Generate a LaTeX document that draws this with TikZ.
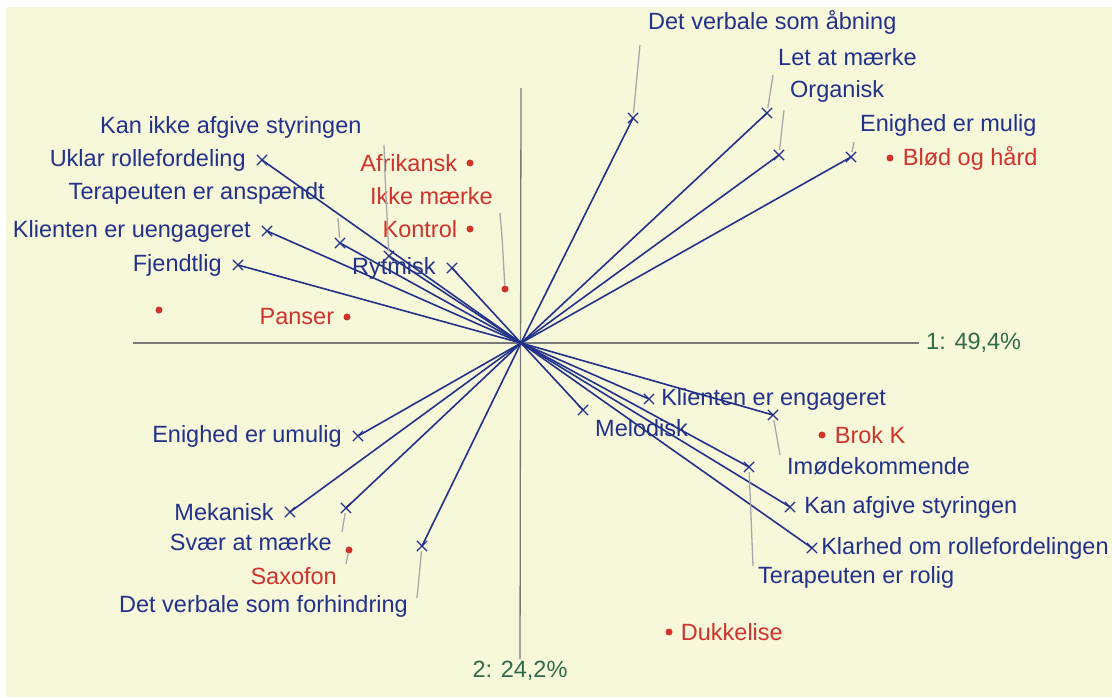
\documentclass[tikz,border=0pt]{standalone}
\usepackage{fontspec}
\setmainfont{Liberation Sans}
\usetikzlibrary{positioning,shapes.misc}
\definecolor{bgyellow}{HTML}{F7F7DA}
\definecolor{vecblue}{HTML}{22318A}
\definecolor{ptred}{HTML}{D0332B}
\definecolor{axgreen}{HTML}{2F6B47}
\definecolor{axgray}{HTML}{7A7A7A}
\definecolor{leadgray}{HTML}{A8A8A8}

\begin{document}
\begin{tikzpicture}[
        x=1pt, y=-1pt,
        node distance = 9pt,
        font=\fontsize{23.5}{27}\selectfont,
        vec/.style={vecblue, line width=1.6pt},
        xmark/.style={cross out, draw=vecblue, line width=1.2pt, minimum size=9pt, inner sep=0pt},
        dot/.style={circle, fill=ptred, minimum size=7pt, inner sep=0pt},
        blbl/.style={text=vecblue, inner sep=0pt},
        rlbl/.style={text=ptred, inner sep=0pt},
        leader/.style={leadgray, line width=1.3pt},
        axis/.style={axgray, line width=1.3pt}]
        % BACKGROUND
        \useasboundingbox (0,0) rectangle (1112,697);
        \fill[white] (0,0) rectangle (1112,697);
        \fill[bgyellow] (6,7) rectangle (1112,697);

        % AXES
        \coordinate (O) at (521,343);
        \coordinate (xl) at (133,343);
        \coordinate (yt) at (521,88);
        \node[text=axgreen, anchor=west, inner sep=0pt] (ax1) at (926,343) {1: 49,4\%};
        \node[text=axgreen, inner sep=0pt] (ax2) at (520,671) {2: 24,2\%};
        \draw[axis, shorten >=7pt] (xl) -- (ax1);
        \draw[axis, shorten >=2pt] (yt) -- (ax2);

        % MARKERS
        \node[xmark] (abn) at (633,118) {};
        \node[xmark] (let) at (767,113) {};
        \node[xmark] (org) at (779,155) {};
        \node[xmark] (mul) at (851,157) {};
        \node[xmark] (kik) at (389,256) {};
        \node[xmark] (ukl) at (262,160) {};
        \node[xmark] (ansp) at (340,243) {};
        \node[xmark] (ueng) at (267,231) {};
        \node[xmark] (fje) at (238,265) {};
        \node[xmark] (ryt) at (452,268) {};
        \node[xmark] (uml) at (358,436) {};
        \node[xmark] (mek) at (290,512) {};
        \node[xmark] (svr) at (346,508) {};
        \node[xmark] (frh) at (422,546) {};
        \node[xmark] (eng) at (649,399) {};
        \node[xmark] (mel) at (583,410) {};
        \node[xmark] (imd) at (773,415) {};
        \node[xmark] (kan) at (790,507) {};
        \node[xmark] (kla) at (812,548) {};
        \node[xmark] (rol) at (749,467) {};

        % VECTORS
        \draw[vec] (O) -- (abn.center);
        \draw[vec] (O) -- (let.center);
        \draw[vec] (O) -- (org.center);
        \draw[vec] (O) -- (mul.center);
        \draw[vec] (O) -- (kik.center);
        \draw[vec] (O) -- (ukl.center);
        \draw[vec] (O) -- (ansp.center);
        \draw[vec] (O) -- (ueng.center);
        \draw[vec] (O) -- (fje.center);
        \draw[vec] (O) -- (ryt.center);
        \draw[vec] (O) -- (uml.center);
        \draw[vec] (O) -- (mek.center);
        \draw[vec] (O) -- (svr.center);
        \draw[vec] (O) -- (frh.center);
        \draw[vec] (O) -- (eng.center);
        \draw[vec] (O) -- (mel.center);
        \draw[vec] (O) -- (imd.center);
        \draw[vec] (O) -- (kan.center);
        \draw[vec] (O) -- (kla.center);
        \draw[vec] (O) -- (rol.center);

        % VECTOR LABELS
        \node[blbl, anchor=west] (labn) at (648,22) {Det verbale som åbning};
        \node[blbl, anchor=west] (llet) at (778,57) {Let at mærke};
        \node[blbl, anchor=west] (lorg) at (790,91) {Organisk};
        \node[blbl, anchor=west] (lmul) at (860,125) {Enighed er mulig};
        \node[blbl, anchor=west] (lkik) at (100,127) {Kan ikke afgive styringen};
        \node[blbl, left=11pt of ukl] (lukl) {Uklar rollefordeling};
        \node[blbl, anchor=east] (lansp) at (325,193) {Terapeuten er anspændt};
        \node[blbl, left=11pt of ueng] (lueng) {Klienten er uengageret};
        \node[blbl, left=11pt of fje] (lfje) {Fjendtlig};
        \node[blbl, left=11pt of ryt] (lryt) {Rytmisk};
        \node[blbl, left=11pt of uml] (luml) {Enighed er umulig};
        \node[blbl, left=11pt of mek] (lmek) {Mekanisk};
        \node[blbl, anchor=east] (lsvr) at (332,542) {Svær at mærke};
        \node[blbl, anchor=east] (lfrh) at (408,606) {Det verbale som forhindring};
        \node[blbl, right=7pt of eng] (leng) {Klienten er engageret};
        \node[blbl, anchor=west] (lmel) at (595,428) {Melodisk};
        \node[blbl, anchor=west] (limd) at (787,466) {Imødekommende};
        \node[blbl, right=9pt of kan] (lkan) {Kan afgive styringen};
        \node[blbl, right=4pt of kla] (lkla) {Klarhed om rollefordelingen};
        \node[blbl, anchor=west] (lrol) at (758,577) {Terapeuten er rolig};

        % POINTS
        \node[dot] (afr) at (470,163) {};
        \node[rlbl, left=of afr] (lafr) {Afrikansk};
        \node[dot] (ikm) at (505,289) {};
        \node[rlbl, anchor=east] (likm) at (493,196) {Ikke mærke};
        \node[dot] (kon) at (470,229) {};
        \node[rlbl, left=of kon] (lkon) {Kontrol};
        \node[dot] (anon) at (159,310) {};
        \node[dot] (pan) at (347,317) {};
        \node[rlbl, left=of pan] (lpan) {Panser};
        \node[dot] (blo) at (890,158) {};
        \node[rlbl, right=of blo] (lblo) {Blød og hård};
        \node[dot] (brk) at (822,435) {};
        \node[rlbl, right=of brk] (lbrk) {Brok K};
        \node[dot] (sax) at (349,550) {};
        \node[rlbl, anchor=east] (lsax) at (337,576) {Saxofon};
        \node[dot] (duk) at (669,632) {};
        \node[rlbl, right=8pt of duk] (lduk) {Dukkelise};

        % LEADERS
        \coordinate (cabn) at (640,45);
        \coordinate (clet) at (773,75);
        \coordinate (corg) at (784,110);
        \coordinate (cmul) at (854,142);
        \coordinate (ckik) at (384,145);
        \coordinate (cansp) at (338,218);
        \coordinate (cikm) at (500,213);
        \coordinate (csvr) at (342,532);
        \coordinate (csax) at (346,564);
        \coordinate (cfrh) at (417,598);
        \coordinate (cimd) at (780,455);
        \coordinate (crol) at (753,566);
        \draw[leader] (abn) -- (cabn);
        \draw[leader] (let) -- (clet);
        \draw[leader] (org) -- (corg);
        \draw[leader] (mul) -- (cmul);
        \draw[leader] (kik) -- (385,175) -- (ckik);
        \draw[leader] (ansp) -- (cansp);
        \draw[leader] (ikm) -- (502,237) -- (cikm);
        \draw[leader] (svr) -- (csvr);
        \draw[leader] (sax) -- (csax);
        \draw[leader] (frh) -- (cfrh);
        \draw[leader] (imd) -- (cimd);
        \draw[leader] (rol) -- (crol);
\end{tikzpicture}
\end{document}
